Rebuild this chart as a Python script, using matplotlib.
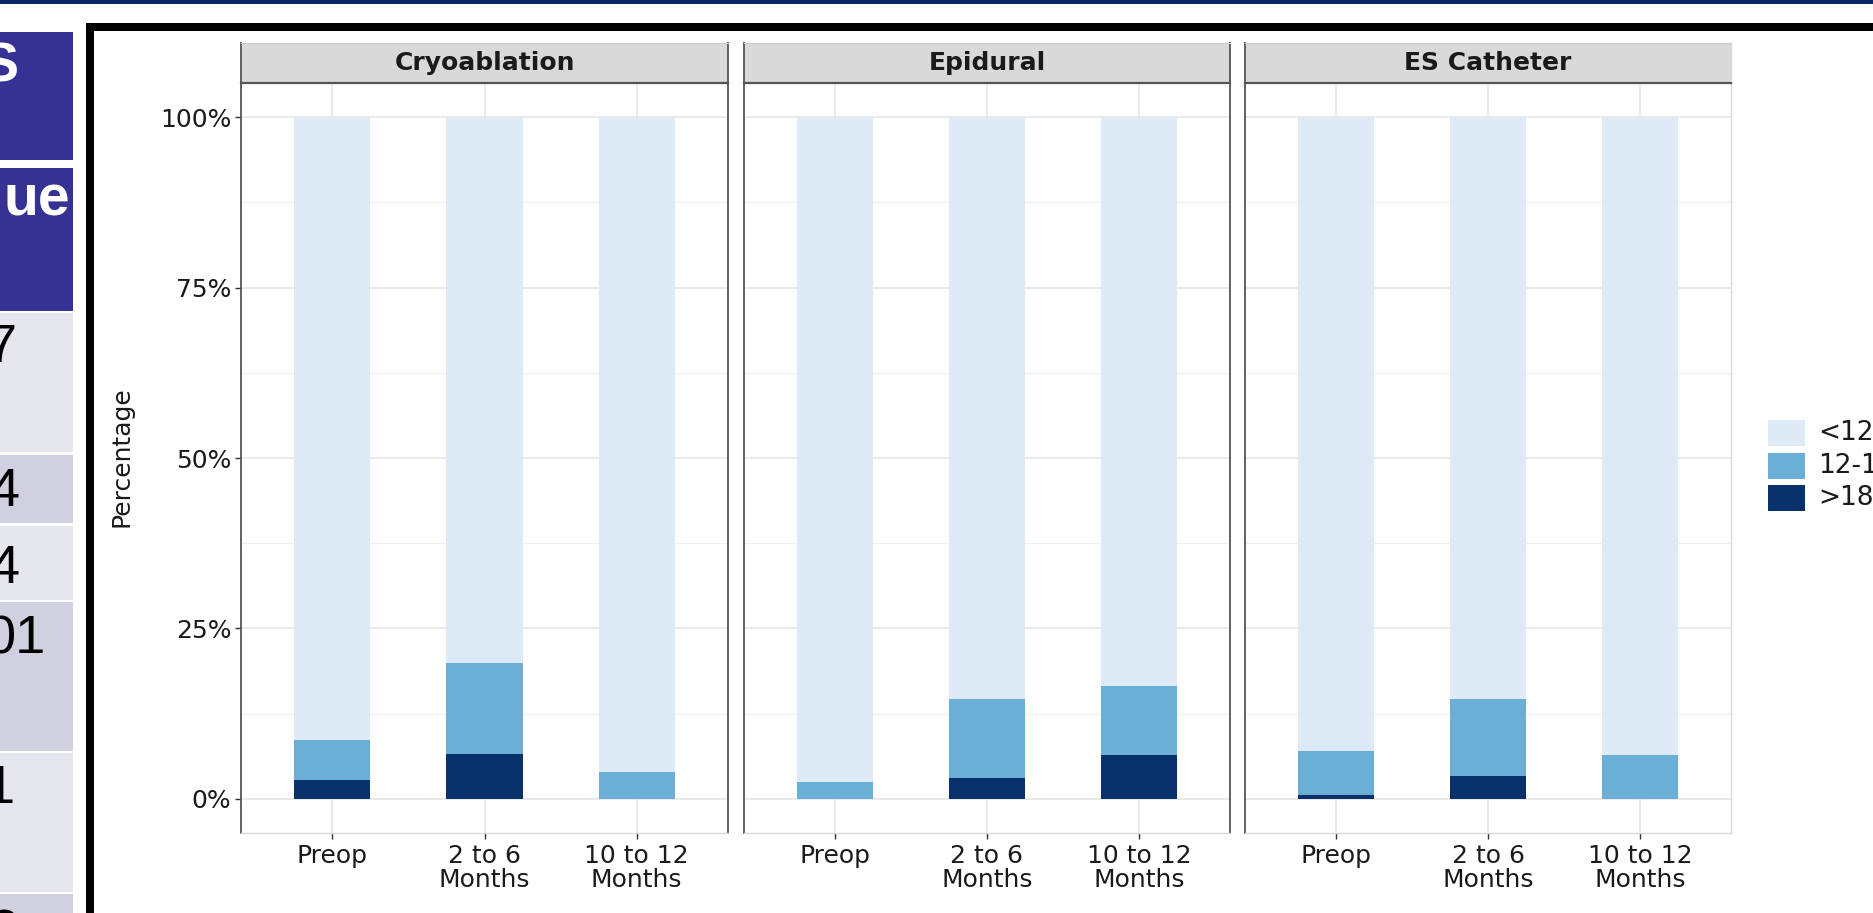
import matplotlib
matplotlib.use("Agg")
import matplotlib.pyplot as plt
from matplotlib.patches import Rectangle

W, H, DPI = 1873, 913, 100

# ---------------- data ----------------
groups = ["Cryoablation", "Epidural", "ES Catheter"]
timepoints = ["Preop", "2 to 6\nMonths", "10 to 12\nMonths"]
levels = ["<12", "12-18", ">18"]
level_colors = ["#deebf7", "#6baed6", "#08306b"]

# percentage of patients in each level (rows = groups, cols = timepoints)
pct_over18 = [[2.8, 6.6, 0.0],
              [0.0, 3.0, 6.5],
              [0.6, 3.3, 0.0]]
pct_12to18 = [[5.8, 13.4, 3.9],
              [2.5, 11.7, 10.0],
              [6.5, 11.4, 6.4]]
pct_under12 = [[91.4, 80.0, 96.1],
               [97.5, 85.3, 83.5],
               [92.9, 85.3, 93.6]]

ytick_values = [0, 25, 50, 75, 100]
ytick_labels = ["0%", "25%", "50%", "75%", "100%"]

# partially visible table on the left of the poster
table_headers = ["S", "ue"]
table_values = ["7", "4", "4", "01", "1", "2"]

# ---------------- helpers ----------------
fig = plt.figure(figsize=(W / DPI, H / DPI), dpi=DPI)
fig.patch.set_facecolor("white")


def fx(px):
    return px / W


def fy(py):
    return 1 - py / H


def frect(x0, y0, x1, y1, **kw):
    fig.add_artist(Rectangle((fx(x0), fy(y1)), (x1 - x0) / W, (y1 - y0) / H,
                             transform=fig.transFigure, lw=0, **kw))


# ---------------- poster decoration ----------------
frect(0, 0, W, 4, color="#0b2463")

# table cells
HEAD = "#363294"
LIGHT = "#e6e6ee"
DARK = "#d0d0e0"
frect(0, 32, 73, 160, color=HEAD)
frect(0, 168, 73, 311, color=HEAD)
frect(0, 313, 73, 452, color=LIGHT)
frect(0, 455, 73, 523, color=DARK)
frect(0, 526, 73, 600, color=LIGHT)
frect(0, 602, 73, 751, color=DARK)
frect(0, 753, 73, 892, color=LIGHT)
frect(0, 894, 73, 930, color=DARK)

tfont = ["Liberation Sans", "DejaVu Sans"]
fig.text(fx(18), fy(82), table_headers[0], ha="right", va="baseline",
         color="white", fontsize=40, fontweight="bold", family=tfont)
fig.text(fx(70), fy(215), table_headers[1], ha="right", va="baseline",
         color="white", fontsize=41, fontweight="bold", family=tfont)
val_pos = [(16, 362), (20, 506), (20, 583), (46, 653), (15, 803), (18, 947)]
for (px, py), v in zip(val_pos, table_values):
    fig.text(fx(px), fy(py), v, ha="right", va="baseline", color="black",
             fontsize=39, family=tfont)

# black frame around the chart (extends past the crop)
frect(86, 23, 94, H + 5, color="black")
frect(86, 23, W + 5, 31, color="black")

# ---------------- facets ----------------
panel_x = [(241, 728), (744, 1230), (1245, 1731)]
panel_top, panel_bot = 83, 833
strip_top = 43
DARKLINE = "#555555"
LIGHTLINE = "#d9d9d9"

for gi, (g, (x0, x1)) in enumerate(zip(groups, panel_x)):
    ax = fig.add_axes([fx(x0), fy(panel_bot), (x1 - x0) / W,
                       (panel_bot - panel_top) / H])
    xs = [1, 2, 3]
    b1 = pct_over18[gi]
    b2 = pct_12to18[gi]
    b3 = pct_under12[gi]
    ax.bar(xs, b1, width=0.5, color=level_colors[2], lw=0, zorder=3)
    ax.bar(xs, b2, width=0.5, bottom=b1, color=level_colors[1], lw=0, zorder=3)
    ax.bar(xs, b3, width=0.5, bottom=[a + b for a, b in zip(b1, b2)],
           color=level_colors[0], lw=0, zorder=3)
    ax.set_xlim(0.4, 3.6)
    ax.set_ylim(-5, 105)
    ax.set_xticks(xs)
    ax.set_xticklabels(timepoints, fontsize=18, color="#1a1a1a",
                       linespacing=1.0)
    ax.set_yticks(ytick_values)
    ax.set_yticks([12.5, 37.5, 62.5, 87.5], minor=True)
    ax.grid(which="major", color="#e8e8e8", lw=1.3, zorder=0)
    ax.grid(which="minor", axis="y", color="#f0f0f0", lw=0.9, zorder=0)
    ax.tick_params(axis="x", length=4, width=1, color="#333333", pad=4)
    ax.tick_params(axis="y", which="minor", length=0)
    if gi == 0:
        ax.set_yticklabels(ytick_labels, fontsize=18, color="#1a1a1a")
        ax.tick_params(axis="y", which="major", length=4, width=1,
                       color="#333333", pad=3)
    else:
        ax.set_yticklabels([])
        ax.tick_params(axis="y", which="major", length=0)
    ax.spines["top"].set_visible(False)
    ax.spines["left"].set_color(DARKLINE)
    ax.spines["left"].set_linewidth(1.3)
    ax.spines["right"].set_color(DARKLINE if gi < 2 else LIGHTLINE)
    ax.spines["right"].set_linewidth(1.3 if gi < 2 else 1.0)
    ax.spines["bottom"].set_color(LIGHTLINE)
    ax.spines["bottom"].set_linewidth(1.0)

    sax = fig.add_axes([fx(x0), fy(panel_top), (x1 - x0) / W,
                        (panel_top - strip_top) / H])
    sax.set_facecolor("#d9d9d9")
    sax.set_xticks([])
    sax.set_yticks([])
    sax.spines["top"].set_color("#cccccc")
    sax.spines["bottom"].set_color(DARKLINE)
    sax.spines["bottom"].set_linewidth(1.6)
    sax.spines["left"].set_color(DARKLINE)
    sax.spines["left"].set_linewidth(1.3)
    sax.spines["right"].set_color(DARKLINE if gi < 2 else LIGHTLINE)
    sax.spines["right"].set_linewidth(1.3 if gi < 2 else 1.0)
    sax.text(0.5, 0.5, g, ha="center", va="center", fontsize=18,
             fontweight="bold", color="#1a1a1a", transform=sax.transAxes)

fig.text(fx(122), fy(457), "Percentage", rotation=90, ha="center",
         va="center", fontsize=18, color="#1a1a1a")

# ---------------- legend ----------------
key_y = [(420, 446), (453, 479), (485, 511)]
for lab, col, (y0, y1) in zip(levels, level_colors, key_y):
    frect(1768, y0, 1805, y1, color=col)
    fig.text(fx(1818), fy((y0 + y1) / 2), lab, ha="left", va="center",
             fontsize=19, color="#1a1a1a")

fig.savefig("out.png", dpi=DPI, facecolor="white")
